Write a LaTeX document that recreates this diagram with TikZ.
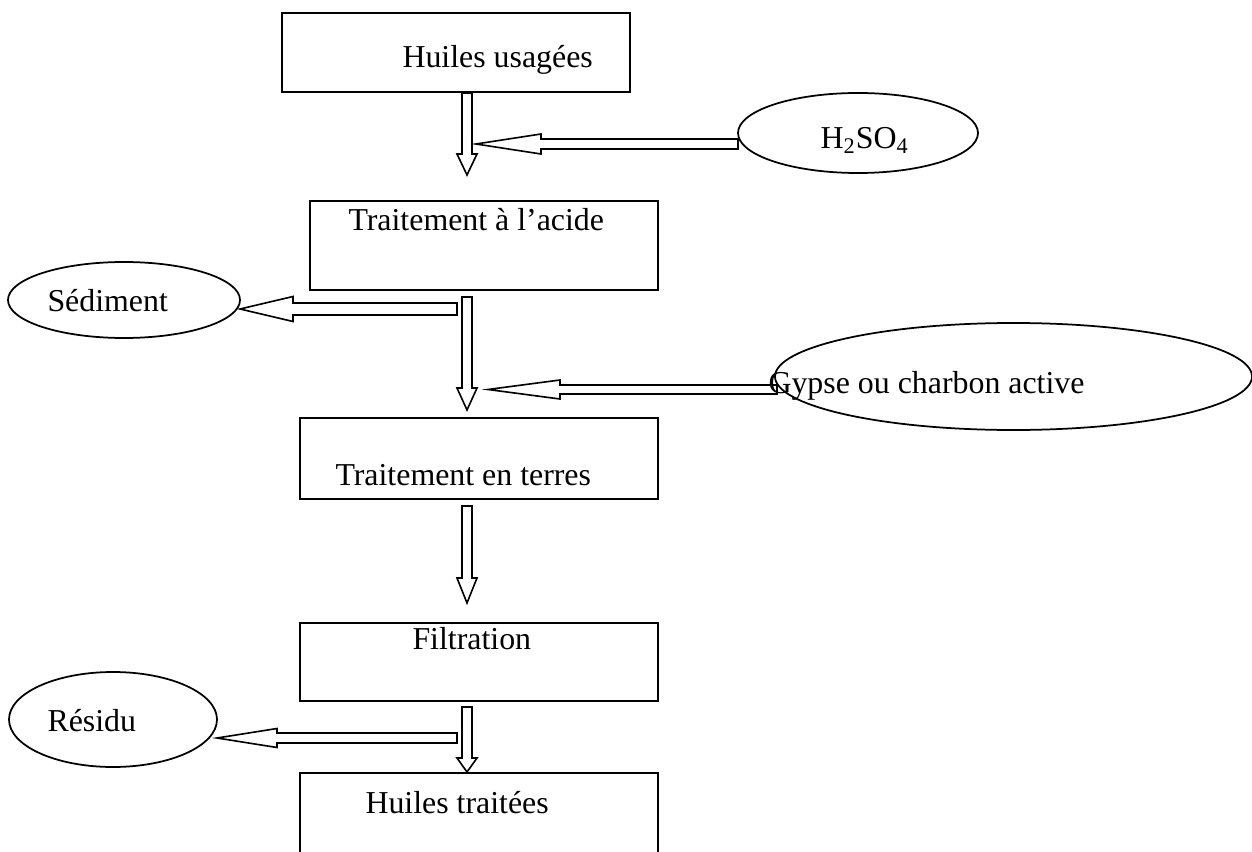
\documentclass[tikz,border=0pt]{standalone}
\usepackage{fontspec}
\setmainfont{Liberation Serif}
\usetikzlibrary{shapes.geometric,calc,fit}
\newcommand\vblk[3]{%
  \draw[blk] ($(#1)+(-5,0)$) -- ($(#2)+(-5,-#3)$) -- ($(#2)+(-10,-#3)$) -- (#2)
    -- ($(#2)+(10,-#3)$) -- ($(#2)+(5,-#3)$) -- ($(#1)+(5,0)$) -- cycle;}
\newcommand\hblk[5]{%
  \draw[blk] ($(#1)+(0,-#4)$) -- ($(#2)+(#3,-#4)$) -- ($(#2)+(#3,-#5)$) -- (#2)
    -- ($(#2)+(#3,#5)$) -- ($(#2)+(#3,#4)$) -- ($(#1)+(0,#4)$) -- cycle;}
\begin{document}
\begin{tikzpicture}[x=0.4pt,y=-0.4pt,
  box/.style={draw,line width=0.8pt,inner sep=0pt},
  oval/.style={draw,ellipse,line width=0.7pt,inner sep=0pt},
  lbl/.style={font=\fontsize{12.75}{15}\selectfont,inner sep=0pt,anchor=base west},
  blk/.style={draw,line width=0.65pt,fill=white,line join=miter}]
\useasboundingbox (0,0) rectangle (1252,852);

% boxes
\node[box,fit={(282,13) (630,92)}] (b1) {};
\node[box,fit={(310,201) (658,290)}] (b2) {};
\node[box,fit={(300,418) (658,499)}] (b3) {};
\node[box,fit={(300,623) (658,701)}] (b4) {};
\coordinate (b5nw) at (300,773);
\coordinate (b5ne) at (658,773);
\draw[line width=0.8pt] (b5nw |- 0,852) -- (b5nw) -- (b5ne) -- (b5ne |- 0,852);

% ellipses
\node[oval,minimum width=96pt,minimum height=32pt] (e1) at (858,133) {};
\node[oval,minimum width=92.8pt,minimum height=30.4pt] (e2) at (124,300) {};
\node[oval,minimum width=190.8pt,minimum height=42.8pt] (e3) at (1013.5,376.5) {};
\node[oval,minimum width=83.2pt,minimum height=38pt] (e4) at (113,719.5) {};

% vertical block arrows
\coordinate (v1s) at (467,93);  \coordinate (v1t) at (467,175);
\coordinate (v2s) at (467,297); \coordinate (v2t) at (467,410);
\coordinate (v3s) at (467,506); \coordinate (v3t) at (467,603);
\coordinate (v4s) at (467,707); \coordinate (v4t) at (467,772);
\vblk{v1s}{v1t}{21}
\vblk{v2s}{v2t}{22}
\vblk{v3s}{v3t}{25}
\vblk{v4s}{v4t}{14}

% horizontal block arrows
\coordinate (h1s) at (738,144);   \coordinate (h1t) at (476,144);
\coordinate (h2s) at (457,309);   \coordinate (h2t) at (240,309);
\coordinate (h3s) at (777,389.5); \coordinate (h3t) at (488,389.5);
\coordinate (h4s) at (457,738);   \coordinate (h4t) at (217,738);
\hblk{h1s}{h1t}{65}{5}{10}
\hblk{h2s}{h2t}{53}{6}{12.5}
\hblk{h3s}{h3t}{72}{4.5}{9.5}
\hblk{h4s}{h4t}{60}{5}{9.5}

% texts
\node[lbl] (t1) at (402,68) {Huiles usagées};
\node[lbl] (t2) at (348,231) {Traitement à l’acide};
\node[lbl] (t3) at (335,485) {Traitement en terres};
\node[lbl] (t4) at (412,649) {Filtration};
\node[lbl] (t5) at (365,813) {Huiles traitées};
\node[lbl] (t6) at (820,149) {H\textsubscript{2}SO\textsubscript{4}};
\node[lbl] (t7) at (47,312) {Sédiment};
\node[lbl] (t8) at (768,393) {Gypse ou charbon active};
\node[lbl] (t9) at (47,731) {Résidu};
\end{tikzpicture}
\end{document}
